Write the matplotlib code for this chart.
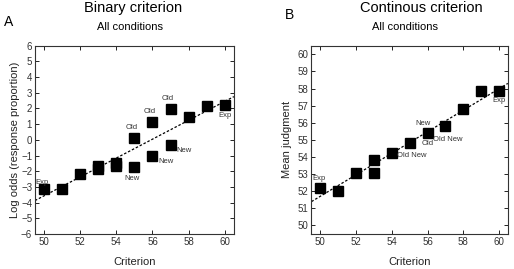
import numpy as np
from matplotlib import pyplot as plt

plt.rcParams["font.family"] = ["Liberation Sans", "DejaVu Sans"]

# panel A: binary criterion, log odds
crit_a = [50, 51, 52, 53, 53, 54, 54, 55, 55, 56, 56, 57, 57, 58, 59, 60]
logodds_a = [-3.1, -3.1, -2.2, -1.65, -1.85, -1.45, -1.65, 0.15, -1.7,
             1.15, -1.0, 1.95, -0.3, 1.45, 2.15, 2.25]
labels_a = [("Exp", 50, -3.1), ("Old", 55, 0.15), ("Old", 56, 1.15),
            ("Old", 57, 1.95), ("Exp", 60, 2.25), ("New", 55, -1.7),
            ("New", 56, -1.0), ("New", 57, -0.3)]

# panel B: continuous criterion, mean judgment
crit_b = [50, 51, 52, 53, 53, 54, 55, 56, 57, 58, 59, 60]
judg_b = [52.2, 52.0, 53.05, 53.85, 53.05, 54.25, 54.8, 55.4, 55.8,
          56.8, 57.85, 57.85]
labels_b = [("Exp", 50, 52.2), ("Old New", 54, 54.25), ("New", 56, 55.4),
            ("Old", 56, 55.4), ("Old New", 56, 55.4), ("Exp", 60, 57.85)]

# label offsets in points (dx, dy, ha, va)
offs_a = {
    0: (-1.5, 1.5, "center", "bottom"),
    1: (-2, 5, "center", "bottom"),
    2: (-2, 5, "center", "bottom"),
    3: (-2, 5, "center", "bottom"),
    4: (0, -5, "center", "top"),
    5: (-2, -6, "center", "top"),
    6: (4, -2, "left", "top"),
    7: (4, -2, "left", "top"),
}
offs_b = {
    0: (-6, 4, "left", "bottom"),
    1: (4, -2, "left", "center"),
    2: (-3, 4, "center", "bottom"),
    3: (0, -5, "center", "top"),
    4: (4, -2, "left", "top"),
    5: (0, -4, "center", "top"),
}


def style_axes(ax):
    for s in ax.spines.values():
        s.set_linewidth(0.8)
        s.set_color("#333333")
    ax.tick_params(direction="in", top=True, right=True, length=3,
                   width=0.6, labelsize=7, pad=2, labelcolor="#333333")
    ax.set_xlim(49.5, 60.5)
    ax.set_xticks(np.arange(50, 61, 2))


def draw_panel(ax, x, y, labels, offs):
    coef = np.polyfit(x, y, 1)
    xl = np.array([49.5, 60.5])
    ax.plot(xl, np.polyval(coef, xl), color="black", lw=0.9,
            linestyle=(0, (2, 1.5)), zorder=2)
    ax.plot(x, y, "s", color="black", markersize=6.5, zorder=3)
    for i, (txt, lx, ly) in enumerate(labels):
        dx, dy, ha, va = offs[i]
        ax.annotate(txt, (lx, ly), xytext=(dx, dy), textcoords="offset points",
                    ha=ha, va=va, fontsize=5.5, color="#333333", zorder=4)


fig = plt.figure(figsize=(5.14, 2.69), dpi=100)
ax_a = fig.add_axes([0.068, 0.130, 0.387, 0.700])
ax_b = fig.add_axes([0.606, 0.130, 0.382, 0.700])

style_axes(ax_a)
ax_a.set_ylim(-6, 6)
ax_a.set_yticks(np.arange(-6, 7, 1))
draw_panel(ax_a, crit_a, logodds_a, labels_a, offs_a)
ax_a.set_xlabel("Criterion", fontsize=8, labelpad=7, color="#222222")
ax_a.set_ylabel("Log odds (response proportion)", fontsize=8, labelpad=1,
                color="#222222")

style_axes(ax_b)
ax_b.set_ylim(49.5, 60.5)
ax_b.set_yticks(np.arange(50, 61, 1))
draw_panel(ax_b, crit_b, judg_b, labels_b, offs_b)
ax_b.set_xlabel("Criterion", fontsize=8, labelpad=7, color="#222222")
ax_b.set_ylabel("Mean judgment", fontsize=8, labelpad=4, color="#222222")

fig.text(0.259, 0.969, "Binary criterion", ha="center", va="center", fontsize=10.5)
fig.text(0.253, 0.900, "All conditions", ha="center", va="center", fontsize=8)
fig.text(0.008, 0.920, "A", ha="left", va="center", fontsize=10)
fig.text(0.820, 0.969, "Continous criterion", ha="center", va="center", fontsize=10.5)
fig.text(0.788, 0.900, "All conditions", ha="center", va="center", fontsize=8)
fig.text(0.564, 0.944, "B", ha="center", va="center", fontsize=10)

fig.savefig("out.png", dpi=100)
